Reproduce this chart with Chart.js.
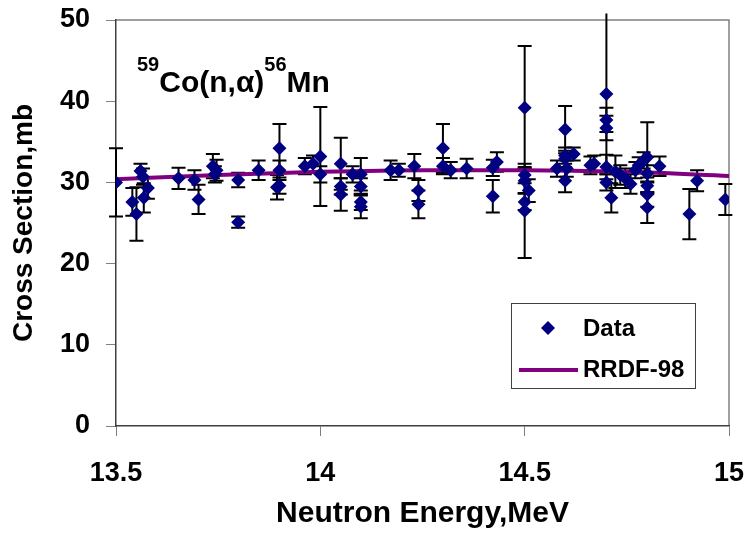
<!DOCTYPE html>
<html>
<head>
<meta charset="utf-8">
<script src="https://cdn.jsdelivr.net/npm/chart.js@4.4.1/dist/chart.umd.min.js"></script>
<style>
  html, body { margin: 0; padding: 0; background: #fff; }
  #wrap { width: 748px; height: 537px; }
</style>
</head>
<body>
<div id="wrap"><canvas id="js-cross-section"></canvas></div>
<script>
// Measured points: neutron energy (MeV), cross section (mb), uncertainty (mb)
const energies = [13.50, 13.54, 13.55, 13.56, 13.566, 13.578, 13.568, 13.653, 13.692, 13.702,
  13.737, 13.746, 13.742, 13.799, 13.799, 13.849, 13.90, 13.90, 13.894, 13.90,
  13.962, 13.982, 14.00, 14.00, 14.05, 14.05, 14.05, 14.079, 14.099, 14.099,
  14.099, 14.099, 14.172, 14.192, 14.23, 14.24, 14.24, 14.30, 14.30, 14.319,
  14.358, 14.422, 14.422, 14.432, 14.50, 14.50, 14.50, 14.51, 14.50, 14.50,
  14.579, 14.599, 14.599, 14.599, 14.603, 14.599, 14.62, 14.661, 14.67, 14.70,
  14.70, 14.70, 14.70, 14.70, 14.712, 14.722, 14.734, 14.746, 14.759, 14.771,
  14.779, 14.791, 14.80, 14.80, 14.80, 14.80, 14.80, 14.83, 14.922, 14.903, 14.991];
const crossSections = [30.0, 27.6, 26.1, 31.4, 30.7, 29.3, 28.1, 30.5, 30.3, 27.9,
  32.0, 31.5, 31.0, 30.3, 25.1, 31.5, 34.2, 31.5, 29.4, 29.6,
  32.0, 32.3, 33.2, 31.0, 32.3, 29.5, 28.5, 31.0, 31.0, 29.5,
  27.6, 27.0, 31.5, 31.5, 32.0, 29.0, 27.3, 34.2, 32.0, 31.5,
  31.7, 28.3, 31.8, 32.5, 39.2, 30.9, 30.2, 29.0, 27.6, 26.5,
  31.7, 36.5, 33.3, 32.9, 31.7, 30.2, 33.5, 32.1, 32.3, 40.9,
  37.7, 36.7, 31.9, 30.0, 28.1, 31.3, 30.9, 30.5, 29.8, 31.5,
  32.1, 32.7, 33.1, 31.1, 29.6, 28.5, 26.9, 32.0, 30.2, 26.1, 27.9];
const uncertainties = [4.2, 1.7, 3.3, 0.9, 1.0, 1.3, 1.8, 1.3, 1.2, 1.8,
  1.5, 1.3, 1.0, 0.9, 0.7, 1.2, 3.0, 1.2, 1.5, 1.0,
  1.0, 1.0, 6.1, 1.0, 3.2, 1.0, 2.0, 1.0, 2.0, 1.0,
  1.0, 1.4, 1.2, 0.8, 1.5, 1.3, 1.7, 3.0, 1.0, 1.0,
  1.2, 2.0, 1.0, 1.2, 7.6, 1.0, 1.5, 1.4, 1.0, 5.8,
  1.0, 2.9, 1.0, 1.0, 1.0, 1.4, 0.8, 1.1, 1.0, 9.9,
  1.5, 1.5, 1.5, 1.0, 1.8, 2.0, 1.2, 1.2, 1.2, 1.0,
  1.0, 1.0, 4.3, 1.0, 1.0, 1.5, 1.9, 1.2, 1.3, 3.1, 1.9];

// Evaluated excitation function
const rrdfEnergies = [13.5, 13.75, 14.0, 14.25, 14.5, 14.75, 15.0];
const rrdfValues = [30.4, 30.9, 31.3, 31.5, 31.5, 31.3, 30.8];

// Axis ticks
const xTicks = [13.5, 14, 14.5, 15];
const yTicks = [0, 10, 20, 30, 40, 50];

const FONT = '"Liberation Sans", Arial, sans-serif';
const NAVY = '#000080';
const PURPLE = '#800080';

// Vertical error bars with caps, drawn under the markers
const errorBars = {
  id: 'errorBars',
  beforeDatasetsDraw(chart) {
    const { ctx, scales: { x, y } } = chart;
    ctx.save();
    ctx.strokeStyle = '#000';
    ctx.lineWidth = 2;
    energies.forEach((e, i) => {
      const px = x.getPixelForValue(e);
      const hi = crossSections[i] + uncertainties[i];
      const top = y.getPixelForValue(hi);
      const bot = y.getPixelForValue(crossSections[i] - uncertainties[i]);
      ctx.beginPath();
      ctx.moveTo(px, top);
      ctx.lineTo(px, bot);
      if (hi <= 50) {
        ctx.moveTo(px - 7, top);
        ctx.lineTo(px + 7, top);
      }
      ctx.moveTo(px - 7, bot);
      ctx.lineTo(px + 7, bot);
      ctx.stroke();
    });
    ctx.restore();
  }
};

// Grey frame on the top and right of the plot
const plotFrame = {
  id: 'plotFrame',
  beforeDraw(chart) {
    const { ctx, chartArea: a } = chart;
    ctx.save();
    ctx.strokeStyle = '#808080';
    ctx.lineWidth = 1.5;
    ctx.beginPath();
    ctx.moveTo(a.left, a.top);
    ctx.lineTo(a.right, a.top);
    ctx.lineTo(a.right, a.bottom);
    ctx.stroke();
    ctx.restore();
  }
};

// Reaction label with superscript mass numbers
const reactionLabel = {
  id: 'reactionLabel',
  afterDraw(chart) {
    const { ctx } = chart;
    const parts = [
      { t: '59', size: 20, dy: -21 },
      { t: 'Co(n,', size: 30, dy: 0 },
      { t: 'α', size: 30, dy: 0 },
      { t: ')', size: 30, dy: 0 },
      { t: '56', size: 20, dy: -21 },
      { t: 'Mn', size: 30, dy: 0 }
    ];
    let px = 137;
    const base = 92;
    ctx.save();
    ctx.fillStyle = '#000';
    ctx.textBaseline = 'alphabetic';
    parts.forEach(p => {
      ctx.font = 'bold ' + p.size + 'px ' + FONT;
      ctx.fillText(p.t, px, base + p.dy);
      px += ctx.measureText(p.t).width;
    });
    ctx.restore();
  }
};

// Boxed legend inside the plot area
const boxLegend = {
  id: 'boxLegend',
  afterDraw(chart) {
    const { ctx } = chart;
    const [data, line] = chart.data.datasets;
    const bx = 511, by = 303, bw = 184, bh = 85;
    ctx.save();
    ctx.fillStyle = '#fff';
    ctx.fillRect(bx, by, bw, bh);
    ctx.strokeStyle = '#404040';
    ctx.lineWidth = 1;
    ctx.strokeRect(bx + 0.5, by + 0.5, bw, bh);

    // marker sample
    ctx.fillStyle = data.backgroundColor;
    ctx.beginPath();
    ctx.moveTo(548, 321);
    ctx.lineTo(555, 328);
    ctx.lineTo(548, 335);
    ctx.lineTo(541, 328);
    ctx.closePath();
    ctx.fill();

    // line sample
    ctx.strokeStyle = line.borderColor;
    ctx.lineWidth = 4;
    ctx.beginPath();
    ctx.moveTo(519, 370);
    ctx.lineTo(578, 370);
    ctx.stroke();

    ctx.fillStyle = '#000';
    ctx.font = 'bold 24px ' + FONT;
    ctx.textBaseline = 'middle';
    ctx.fillText(data.label, 583, 329);
    ctx.fillText(line.label, 583, 370);
    ctx.restore();
  }
};

const ctx = document.getElementById('js-cross-section').getContext('2d');

const crossSectionChart = new Chart(ctx, {
  type: 'scatter',
  data: {
    datasets: [
      {
        label: 'Data',
        data: energies.map((e, i) => ({ x: e, y: crossSections[i] })),
        backgroundColor: NAVY,
        borderColor: NAVY,
        pointStyle: 'rectRot',
        pointRadius: 7,
        pointBorderWidth: 0,
        showLine: false,
        order: 0
      },
      {
        label: 'RRDF-98',
        data: rrdfEnergies.map((e, i) => ({ x: e, y: rrdfValues[i] })),
        borderColor: PURPLE,
        backgroundColor: PURPLE,
        borderWidth: 4,
        pointRadius: 0,
        showLine: true,
        cubicInterpolationMode: 'monotone',
        order: 1
      }
    ]
  },
  options: {
    responsive: true,
    maintainAspectRatio: false,
    animation: false,
    layout: { padding: { top: 20, right: 19, left: 0, bottom: 0 } },
    plugins: {
      legend: { display: false },
      tooltip: { enabled: false }
    },
    scales: {
      x: {
        type: 'linear',
        min: 13.5,
        max: 15,
        afterFit: (scale) => {
          scale.height = 111;
          scale.paddingLeft = 0;
          scale.paddingRight = 0;
        },
        afterBuildTicks: (scale) => { scale.ticks = xTicks.map(v => ({ value: v })); },
        ticks: {
          color: '#000',
          padding: 21,
          font: { family: FONT, size: 27, weight: 'bold' },
          callback: (v) => String(v)
        },
        grid: { drawOnChartArea: false, drawTicks: true, tickLength: 10, color: '#808080' },
        border: { color: '#404040', width: 1.5 },
        title: {
          display: true,
          text: 'Neutron Energy,MeV',
          color: '#000',
          font: { family: FONT, size: 30, weight: 'bold' },
          padding: { top: 0, bottom: 5 }
        }
      },
      y: {
        min: 0,
        max: 50,
        afterFit: (scale) => {
          scale.width = 116;
          scale.paddingTop = 0;
          scale.paddingBottom = 0;
        },
        afterBuildTicks: (scale) => { scale.ticks = yTicks.map(v => ({ value: v })); },
        ticks: {
          color: '#000',
          padding: 16,
          font: { family: FONT, size: 27, weight: 'bold' }
        },
        grid: { drawOnChartArea: false, drawTicks: true, tickLength: 10, color: '#808080' },
        border: { color: '#404040', width: 1.5 },
        title: {
          display: true,
          text: 'Cross Section,mb',
          color: '#000',
          font: { family: FONT, size: 28, weight: 'bold' },
          padding: { top: 7, bottom: 0 }
        }
      }
    }
  },
  plugins: [plotFrame, errorBars, reactionLabel, boxLegend]
});
</script>
</body>
</html>
